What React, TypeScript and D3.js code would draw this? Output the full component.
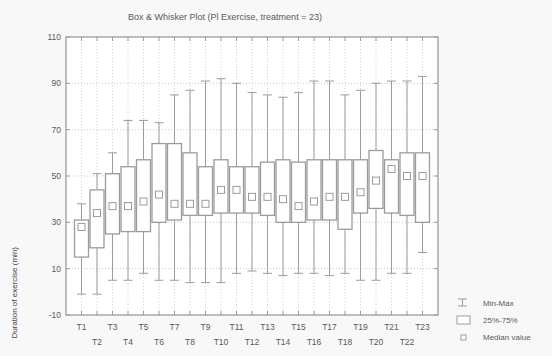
import React from "react";
import * as d3 from "d3";

const categories = ["T1","T2","T3","T4","T5","T6","T7","T8","T9","T10","T11","T12","T13","T14","T15","T16","T17","T18","T19","T20","T21","T22","T23"];
const minValues = [-1, -1, 5, 5, 8, 5, 5, 4, 4, 4, 8, 9, 8, 7, 8, 8, 7, 8, 5, 5, 8, 8, 17];
const q1Values = [15, 19, 25, 26, 26, 30, 31, 33, 33, 34, 34, 34, 33, 30, 30, 31, 31, 27, 34, 36, 34, 33, 30];
const medianValues = [28, 34, 37, 37, 39, 42, 38, 38, 38, 44, 44, 41, 41, 40, 37, 39, 41, 41, 43, 48, 53, 50, 50];
const q3Values = [31, 44, 51, 54, 57, 64, 64, 60, 54, 57, 54, 54, 56, 57, 56, 57, 57, 57, 57, 61, 57, 60, 60];
const maxValues = [38, 51, 60, 74, 74, 73, 85, 87, 91, 92, 90, 86, 85, 84, 86, 91, 91, 85, 87, 90, 91, 91, 93];
const yTicks = [-10, 10, 30, 50, 70, 90, 110];
const legendItems = ["Min-Max", "25%-75%", "Median value"];
const title = "Box & Whisker Plot (Pl Exercise, treatment = 23)";

const W = 552, H = 356;
const left = 66, right = 438, top = 37, bottom = 315;

export default function App() {
  const x = d3.scaleLinear().domain([0, categories.length + 1]).range([left, right]);
  const y = d3.scaleLinear().domain([-10, 110]).range([bottom, top]);
  const boxW = 14, capW = 9, medW = 7;
  const stroke = "#9c9c9c";
  const textColor = "#5a5a5a";
  const font = "Liberation Sans, Arial, sans-serif";

  return (
    <div style={{ position: "fixed", left: 0, top: 0 }}>
      <svg width={W} height={H} style={{ display: "block", background: "#f8f8f8" }} fontFamily={font}>
        <text x={225} y={20} fontSize={9} fill={textColor} textAnchor="middle">{title}</text>
        <rect x={left} y={top} width={right - left} height={bottom - top} fill="#fff" />
        {/* dotted grid */}
        {yTicks.filter(t => t > -10 && t < 110).map(t => (
          <line key={"gy" + t} x1={left} x2={right} y1={y(t)} y2={y(t)} stroke="#c8c8c8" strokeDasharray="1,2" />
        ))}
        {categories.map((c, i) => (
          <line key={"gx" + c} x1={x(i + 1)} x2={x(i + 1)} y1={top} y2={bottom} stroke="#d0d0d0" strokeDasharray="1,2" />
        ))}
        {/* frame ticks */}
        {categories.map((c, i) => (
          <g key={"tk" + c}>
            <line x1={x(i + 1)} x2={x(i + 1)} y1={top} y2={top + 4} stroke={stroke} />
            <line x1={x(i + 1)} x2={x(i + 1)} y1={bottom} y2={bottom - 4} stroke={stroke} />
          </g>
        ))}
        {yTicks.map(t => (
          <g key={"ty" + t}>
            <line x1={left} x2={left + 4} y1={y(t)} y2={y(t)} stroke={stroke} />
            <line x1={right} x2={right - 4} y1={y(t)} y2={y(t)} stroke={stroke} />
            <text x={left - 5} y={y(t) + 3} fontSize={8.5} fill={textColor} textAnchor="end">{t}</text>
          </g>
        ))}
        {/* boxes */}
        {categories.map((c, i) => {
          const cx = x(i + 1);
          return (
            <g key={"b" + c} stroke={stroke} fill="#fff">
              <line x1={cx} x2={cx} y1={y(minValues[i])} y2={y(maxValues[i])} />
              <line x1={cx - capW / 2} x2={cx + capW / 2} y1={y(minValues[i])} y2={y(minValues[i])} />
              <line x1={cx - capW / 2} x2={cx + capW / 2} y1={y(maxValues[i])} y2={y(maxValues[i])} />
              <rect x={cx - boxW / 2} y={y(q3Values[i])} width={boxW} height={y(q1Values[i]) - y(q3Values[i])} strokeWidth={1.3} />
              <rect x={cx - medW / 2} y={y(medianValues[i]) - medW / 2} width={medW} height={medW} />
            </g>
          );
        })}
        <rect x={left} y={top} width={right - left} height={bottom - top} fill="none" stroke={stroke} strokeWidth={1.3} />
        {/* category labels, alternating rows */}
        {categories.map((c, i) => (
          <text key={"xl" + c} x={x(i + 1)} y={i % 2 === 0 ? 330 : 345} fontSize={8.5} fill={textColor} textAnchor="middle">{c}</text>
        ))}
        {/* legend */}
        <g stroke={stroke} fill="#fff">
          <line x1={458} x2={467} y1={299} y2={299} />
          <line x1={458} x2={467} y1={306} y2={306} />
          <line x1={462.5} x2={462.5} y1={299} y2={306} />
          <rect x={457} y={316} width={13} height={8} />
          <rect x={461} y={335} width={5} height={5} />
        </g>
        {legendItems.map((t, i) => (
          <text key={t} x={483} y={306 + i * 17} fontSize={8} fill={textColor}>{t}</text>
        ))}
        <text transform="translate(17,247) rotate(-90)" fontSize={8} fill="#444" textAnchor="end">Duration of exercise (min)</text>
      </svg>
    </div>
  );
}
